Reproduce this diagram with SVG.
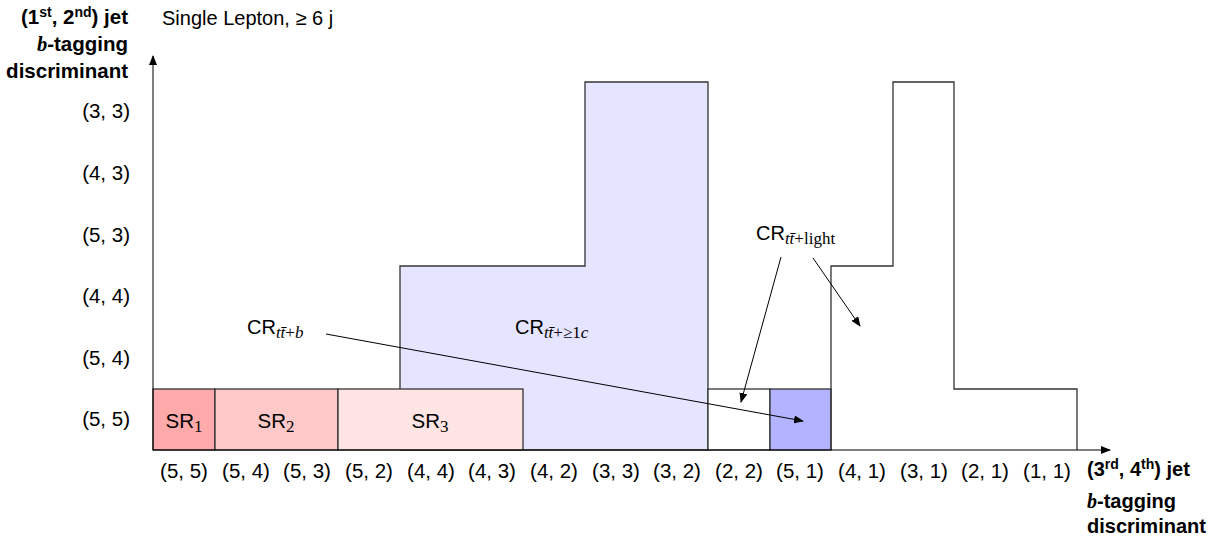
<svg xmlns="http://www.w3.org/2000/svg" width="1217" height="538" viewBox="0 0 1217 538">
<style>
text{font-family:"Liberation Sans","DejaVu Sans",sans-serif;font-size:20px;fill:#000}
.b{font-weight:bold;font-size:20px}
.sub{font-family:"Liberation Serif","DejaVu Serif",serif;font-style:italic;font-size:17px}
.subr{font-family:"Liberation Serif","DejaVu Serif",serif;font-size:17px}
.box{stroke:#333;stroke-width:1.3}
.ax{stroke:#000;stroke-width:1}
.arr{stroke:#000;stroke-width:1;fill:none;marker-end:url(#ah)}
.xl{text-anchor:middle;font-size:20.5px}
.yl{text-anchor:end;font-size:20.5px}
</style>
<defs>
<marker id="ah" viewBox="0 0 10 8" refX="9" refY="4" markerWidth="10" markerHeight="8" markerUnits="userSpaceOnUse" orient="auto">
<path d="M0,0 L10,4 L0,8 Z" fill="#000"/>
</marker>
</defs>
<rect width="1217" height="538" fill="#fff"/>
<g id="region-1c">
<path class="box" d="M400,389 V266 H585 V82 H708 V450 H400 Z" fill="#e5e5ff"/>
</g>
<g id="sr1"><rect class="box" x="153" y="389" width="62" height="61" fill="#ffaaaa"/><text x="184" y="428" class="xl">SR<tspan class="subr" dy="4">1</tspan></text></g>
<g id="sr2"><rect class="box" x="215" y="389" width="123" height="61" fill="#ffc8c8"/><text x="276" y="428" class="xl">SR<tspan class="subr" dy="4">2</tspan></text></g>
<g id="sr3"><rect class="box" x="338" y="389" width="185" height="61" fill="#ffe4e4"/><text x="430" y="428" class="xl">SR<tspan class="subr" dy="4">3</tspan></text></g>
<g id="cr-22"><rect class="box" x="708" y="389" width="62" height="61" fill="#fff"/></g>
<g id="cr-51"><rect class="box" x="770" y="389" width="61" height="61" fill="#b3b3ff"/></g>
<g id="region-light">
<path class="box" d="M831,450 V266 H893 V82 H954 V389 H1077 V450" fill="none"/>
</g>
<g id="axes">
<line class="ax" x1="153" y1="450" x2="153" y2="56" marker-end="url(#ah)"/>
<line class="ax" x1="153" y1="450" x2="1110" y2="450" marker-end="url(#ah)"/>
</g>
<g id="connectors">
<line class="arr" x1="326" y1="334" x2="803" y2="421"/>
<line class="arr" x1="781" y1="257" x2="741" y2="402"/>
<line class="arr" x1="813" y1="258" x2="860" y2="326"/>
</g>
<g id="labels">
<text x="247" y="334">CR<tspan class="sub" dy="4">tt̄</tspan><tspan class="subr">+</tspan><tspan class="sub">b</tspan></text>
<text x="515" y="334">CR<tspan class="sub" dy="4">tt̄</tspan><tspan class="subr">+≥1</tspan><tspan class="sub">c</tspan></text>
<text x="756" y="240">CR<tspan class="sub" dy="4">tt̄</tspan><tspan class="subr">+light</tspan></text>
<text x="162" y="25">Single Lepton, ≥ 6 j</text>
</g>
<g id="y-title">
<text x="128" y="24" class="b yl">(1<tspan font-size="14" dy="-7">st</tspan><tspan dy="7">, 2</tspan><tspan font-size="14" dy="-7">nd</tspan><tspan dy="7">) jet</tspan></text>
<text x="128" y="51" class="b yl"><tspan font-family="Liberation Serif,serif" font-style="italic">b</tspan>-tagging</text>
<text x="128" y="78" class="b yl">discriminant</text>
</g>
<g id="x-title">
<text x="1087" y="476" class="b">(3<tspan font-size="14" dy="-7">rd</tspan><tspan dy="7">, 4</tspan><tspan font-size="14" dy="-7">th</tspan><tspan dy="7">) jet</tspan></text>
<text x="1087" y="508" class="b"><tspan font-family="Liberation Serif,serif" font-style="italic">b</tspan>-tagging</text>
<text x="1087" y="533" class="b">discriminant</text>
</g>
<g id="y-ticks">
<text x="130" y="118" class="yl">(3, 3)</text>
<text x="130" y="180" class="yl">(4, 3)</text>
<text x="130" y="242" class="yl">(5, 3)</text>
<text x="130" y="303" class="yl">(4, 4)</text>
<text x="130" y="365" class="yl">(5, 4)</text>
<text x="130" y="426" class="yl">(5, 5)</text>
</g>
<g id="x-ticks">
<text x="184" y="478" class="xl">(5, 5)</text>
<text x="246" y="478" class="xl">(5, 4)</text>
<text x="307" y="478" class="xl">(5, 3)</text>
<text x="369" y="478" class="xl">(5, 2)</text>
<text x="431" y="478" class="xl">(4, 4)</text>
<text x="492" y="478" class="xl">(4, 3)</text>
<text x="554" y="478" class="xl">(4, 2)</text>
<text x="616" y="478" class="xl">(3, 3)</text>
<text x="677" y="478" class="xl">(3, 2)</text>
<text x="739" y="478" class="xl">(2, 2)</text>
<text x="800" y="478" class="xl">(5, 1)</text>
<text x="862" y="478" class="xl">(4, 1)</text>
<text x="924" y="478" class="xl">(3, 1)</text>
<text x="985" y="478" class="xl">(2, 1)</text>
<text x="1047" y="478" class="xl">(1, 1)</text>
</g>
</svg>
